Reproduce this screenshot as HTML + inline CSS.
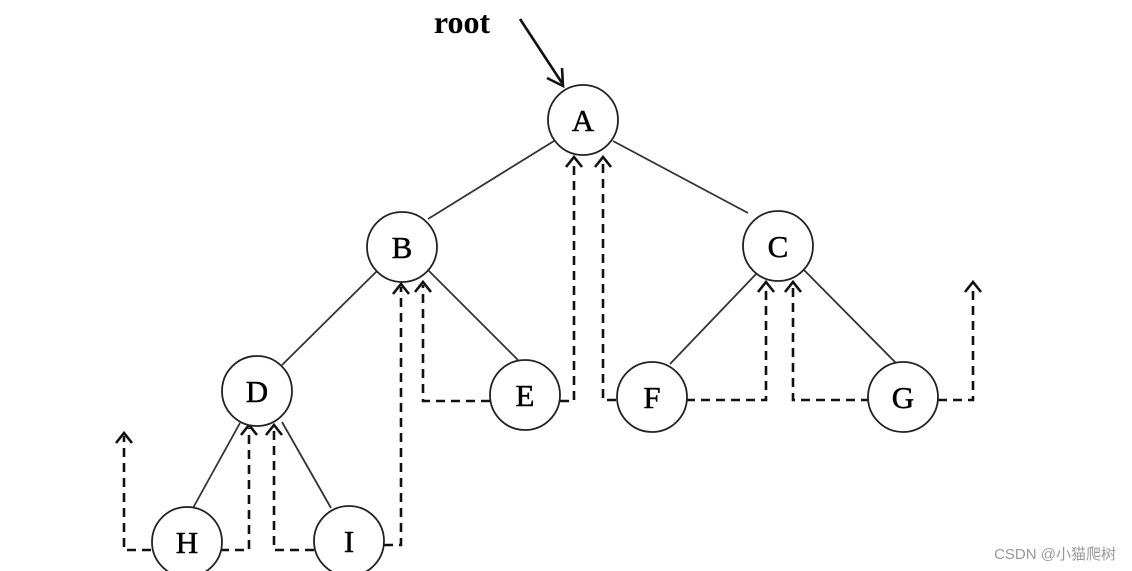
<!DOCTYPE html>
<html><head><meta charset="utf-8"><style>
html,body{margin:0;padding:0;background:#fff;}
svg{display:block;}
.n{fill:#fff;stroke:#222;stroke-width:1.8;}
.t{font-family:"Liberation Serif",serif;font-size:31px;text-anchor:middle;fill:#000;stroke:#000;stroke-width:0.5;}
.e{stroke:#333;stroke-width:1.8;fill:none;}
.d{stroke:#111;stroke-width:2.6;fill:none;stroke-dasharray:9,6;}
.a{stroke:#111;stroke-width:2.6;fill:none;}
</style></head><body>
<svg width="1132" height="571" viewBox="0 0 1132 571" xmlns="http://www.w3.org/2000/svg">
<text x="462" y="33" style="font-family:'Liberation Serif',serif;font-size:32px;font-weight:bold;text-anchor:middle">root</text>
<line x1="520" y1="19" x2="562" y2="83" class="a"/>
<polyline points="547,78 563,86 562,68" class="a"/>
<line x1="554" y1="141" x2="428" y2="219" class="e"/>
<line x1="613" y1="141" x2="748" y2="213" class="e"/>
<line x1="378" y1="270" x2="282" y2="365" class="e"/>
<line x1="428" y1="270" x2="518" y2="360" class="e"/>
<line x1="758" y1="272" x2="670" y2="364" class="e"/>
<line x1="802" y1="268" x2="896" y2="363" class="e"/>
<line x1="240" y1="423" x2="193" y2="508" class="e"/>
<line x1="282" y1="422" x2="331" y2="508" class="e"/>
<polyline points="151,550 124,550 124,436" class="d"/>
<polyline points="220,550 249,550 249,428" class="d"/>
<polyline points="314,550 274,550 274,428" class="d"/>
<polyline points="384,545 401,545 401,287" class="d"/>
<polyline points="490,401 423,401 423,285" class="d"/>
<polyline points="560,401 574,401 574,160" class="d"/>
<polyline points="616,400 603,400 603,160" class="d"/>
<polyline points="686,400 766,400 766,285" class="d"/>
<polyline points="870,400 793,400 793,285" class="d"/>
<polyline points="938,400 973,400 973,285" class="d"/>
<g class="a">
<polyline points="116,443 124,433 132,443"/>
<polyline points="241,435 249,425 257,435"/>
<polyline points="266,435 274,425 282,435"/>
<polyline points="393,294 401,284 409,294"/>
<polyline points="415,292 423,282 431,292"/>
<polyline points="566,167 574,157 582,167"/>
<polyline points="595,167 603,157 611,167"/>
<polyline points="758,292 766,282 774,292"/>
<polyline points="785,292 793,282 801,292"/>
<polyline points="965,292 973,282 981,292"/>
</g>
<circle cx="583" cy="120" r="35" class="n"/><text x="583" y="131" class="t">A</text>
<circle cx="402" cy="247" r="35" class="n"/><text x="402" y="258" class="t">B</text>
<circle cx="778" cy="246" r="35" class="n"/><text x="778" y="257" class="t">C</text>
<circle cx="257" cy="391" r="35" class="n"/><text x="257" y="402" class="t">D</text>
<circle cx="525" cy="395" r="35" class="n"/><text x="525" y="406" class="t">E</text>
<circle cx="652" cy="397" r="35" class="n"/><text x="652" y="408" class="t">F</text>
<circle cx="903" cy="397" r="35" class="n"/><text x="903" y="408" class="t">G</text>
<circle cx="187" cy="542" r="35" class="n"/><text x="187" y="553" class="t">H</text>
<circle cx="349" cy="541" r="35" class="n"/><text x="349" y="552" class="t">I</text>
<text x="1116" y="559" style="font-family:'Liberation Sans','Noto Sans CJK SC',sans-serif;font-size:15px;fill:#999;text-anchor:end">CSDN @小猫爬树</text>
</svg>
</body></html>
